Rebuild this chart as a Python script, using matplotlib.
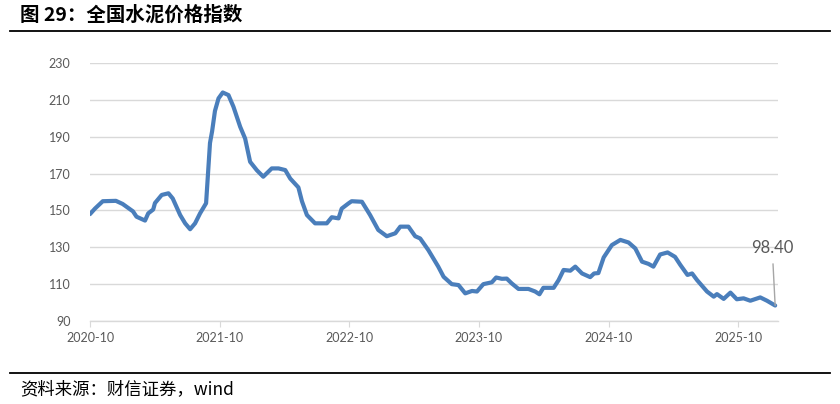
import pandas as pd
import matplotlib
matplotlib.use('Agg')
from matplotlib import pyplot as plt, dates as mdates
from matplotlib.lines import Line2D

plt.rcParams['font.family'] = ['Lato', 'Noto Sans CJK SC', 'DejaVu Sans']

TITLE = '图 29：全国水泥价格指数'
SOURCE = '资料来源：财信证券，wind'
LINE_COLOR = '#4a7ebb'
GRID_COLOR = '#d9d9d9'
TICK_COLOR = '#595959'

# weekly-ish readings of the national cement price index
dates = [
    '2020-10-01', '2020-10-15', '2020-11-06', '2020-12-13', '2021-01-01',
    '2021-01-30', '2021-02-09', '2021-03-05', '2021-03-14', '2021-03-28',
    '2021-04-02', '2021-04-21', '2021-05-10', '2021-05-22', '2021-06-12',
    '2021-06-26', '2021-07-10', '2021-07-24', '2021-08-07', '2021-08-24',
    '2021-09-04', '2021-09-10', '2021-09-18', '2021-09-28', '2021-10-10',
    '2021-10-26', '2021-11-09', '2021-11-28', '2021-12-12', '2021-12-26',
    '2022-01-14', '2022-02-01', '2022-02-25', '2022-03-16', '2022-04-04',
    '2022-04-18', '2022-05-11', '2022-05-21', '2022-06-04', '2022-06-27',
    '2022-07-30', '2022-08-13', '2022-09-01', '2022-09-10', '2022-09-29',
    '2022-10-08', '2022-11-06', '2022-11-29', '2022-12-22', '2023-01-15',
    '2023-02-08', '2023-02-22', '2023-03-17', '2023-04-05', '2023-04-19',
    '2023-05-12', '2023-06-09', '2023-06-24', '2023-07-17', '2023-08-05',
    '2023-08-24', '2023-09-12', '2023-09-26', '2023-10-14', '2023-11-07',
    '2023-11-19', '2023-12-05', '2023-12-19', '2024-01-02', '2024-01-21',
    '2024-02-18', '2024-03-08', '2024-03-20', '2024-03-31', '2024-04-29',
    '2024-05-13', '2024-05-27', '2024-06-15', '2024-06-29', '2024-07-18',
    '2024-08-10', '2024-08-21', '2024-09-02', '2024-09-17', '2024-10-10',
    '2024-11-03', '2024-11-26', '2024-12-15', '2025-01-03', '2025-01-21',
    '2025-02-04', '2025-02-23', '2025-03-16', '2025-04-06', '2025-04-21',
    '2025-05-11', '2025-05-24', '2025-06-07', '2025-07-05', '2025-07-24',
    '2025-08-02', '2025-08-21', '2025-09-09', '2025-09-27', '2025-10-16',
    '2025-11-04', '2025-12-02', '2025-12-21', '2026-01-13',
]
values = [
    148.0, 151.0, 155.0, 155.2, 153.5,
    149.5, 146.6, 144.5, 148.4, 150.5,
    154.0, 158.4, 159.3, 156.5, 147.5,
    143.0, 139.8, 143.0, 148.4, 153.9,
    186.6, 193.0, 204.0, 210.8, 214.0,
    212.6, 206.3, 195.4, 189.0, 176.4,
    171.8, 168.3, 172.8, 172.8, 171.9,
    167.3, 162.5, 155.0, 147.5, 143.0,
    143.0, 146.3, 145.7, 151.0, 153.8,
    155.0, 154.7, 147.5, 139.4, 136.0,
    137.6, 141.2, 141.2, 136.0, 134.8,
    128.5, 119.5, 114.0, 110.0, 109.5,
    105.0, 106.3, 106.0, 110.0, 111.0,
    113.6, 112.9, 113.0, 110.4, 107.4,
    107.4, 106.0, 104.5, 108.0, 108.0,
    112.2, 117.7, 117.3, 119.5, 115.8,
    113.8, 115.8, 116.0, 124.5, 131.2,
    134.0, 132.6, 129.4, 122.2, 121.0,
    119.5, 126.1, 127.2, 124.8, 120.4,
    115.0, 115.8, 112.2, 106.0, 103.2,
    104.6, 102.0, 105.4, 101.8, 102.3,
    101.0, 102.8, 101.0, 98.4,
]
y_ticks = [90, 110, 130, 150, 170, 190, 210, 230]
x_ticks = ['2020-10-01', '2021-10-01', '2022-10-01', '2023-10-01', '2024-10-01', '2025-10-01']

df = pd.DataFrame({'date': pd.to_datetime(dates), 'value': values})

fig = plt.figure(figsize=(8.4, 4.04), dpi=100)
ax = fig.add_axes([90 / 840, 1 - 321 / 404, (778 - 90) / 840, (321 - 63) / 404])

ax.plot(df['date'], df['value'], color=LINE_COLOR, linewidth=3.0,
        solid_joinstyle='round', solid_capstyle='round', zorder=3)

ax.set_ylim(90, 230)
ax.set_yticks(y_ticks)
ax.set_xlim(pd.Timestamp(x_ticks[0]), df['date'].iloc[-1] + pd.Timedelta(days=8))
ax.set_xticks(pd.to_datetime(x_ticks))
ax.xaxis.set_major_formatter(mdates.DateFormatter('%Y-%m'))

ax.grid(axis='y', color=GRID_COLOR, linewidth=1)
ax.set_axisbelow(True)
for s in ['top', 'right', 'left']:
    ax.spines[s].set_visible(False)
ax.spines['bottom'].set_color(GRID_COLOR)
ax.spines['bottom'].set_linewidth(1)
ax.tick_params(axis='y', length=0, pad=14, labelsize=9, labelcolor=TICK_COLOR)
ax.tick_params(axis='x', length=4, color=GRID_COLOR, pad=4, labelsize=9, labelcolor=TICK_COLOR)

last_x, last_y = df['date'].iloc[-1], df['value'].iloc[-1]
ax.annotate('{:.2f}'.format(last_y), xy=(last_x, last_y), xytext=(-3, 50),
            textcoords='offset pixels', ha='center', va='bottom',
            fontsize=12, color=TICK_COLOR,
            arrowprops=dict(arrowstyle='-', color='#a6a6a6', lw=1,
                            shrinkA=4, shrinkB=0))

# header / footer rules and captions
fig.add_artist(Line2D([10 / 840, 830 / 840], [1 - 31 / 404] * 2, color='black', lw=1.3))
fig.add_artist(Line2D([10 / 840, 830 / 840], [1 - 373 / 404] * 2, color='black', lw=1.3))
fig.text(20 / 840, 1 - 15 / 404, TITLE, fontsize=14, fontweight='bold',
         family=['Noto Sans CJK SC', 'DejaVu Sans'], va='center', ha='left')
fig.text(20 / 840, 1 - 389 / 404, SOURCE, fontsize=12.5, style='italic',
         family=['Noto Sans CJK SC', 'DejaVu Sans'], va='center', ha='left')

fig.savefig('out.png', dpi=100)
